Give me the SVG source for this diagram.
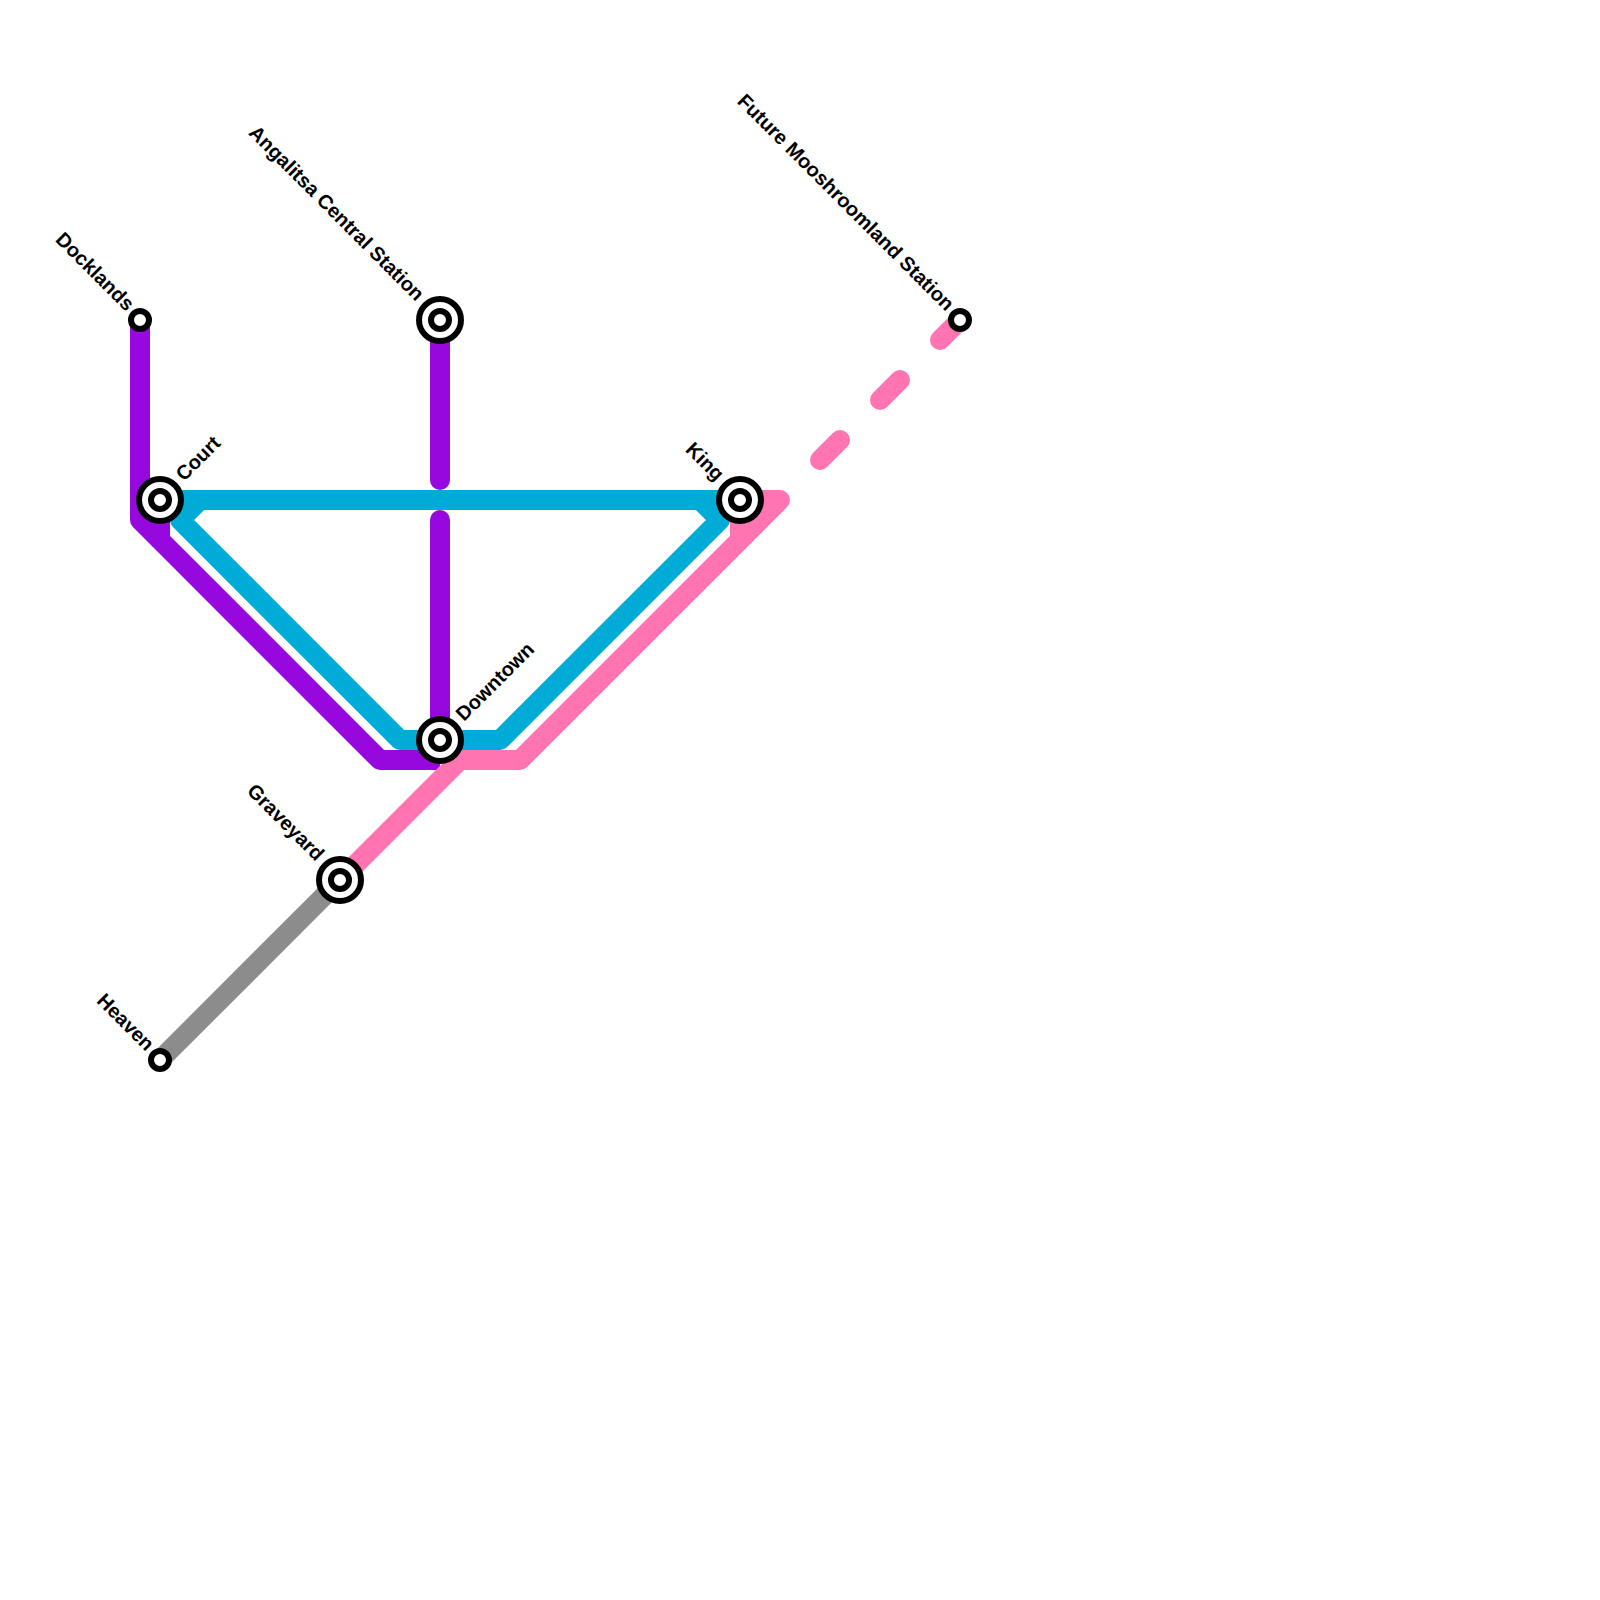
<svg xmlns="http://www.w3.org/2000/svg" width="1600" height="1600" viewBox="0 0 1600 1600">
<style>
.l{fill:none;stroke-width:20;stroke-linejoin:round;stroke-linecap:butt}
.r{stroke-linecap:round}
.b{stroke:#00acd7}.p{stroke:#9708df}.k{stroke:#ff74b1}.g{stroke:#8c8c8c}
.o{fill:#fff;stroke:#000;stroke-width:6}
text{font-family:"Liberation Sans",Arial,sans-serif;font-size:20px;font-weight:700;fill:#000;text-rendering:geometricPrecision;opacity:.999}
.e{text-anchor:end}
</style>
<rect width="1600" height="1600" fill="#fff"/>
<g id="connectors">
<path class="l g" d="M160 1060L340 880"/>
<path class="l b" d="M160 500H740"/>
<path class="l b" d="M200 500L180 520L400 740H500L720 520L700 500"/>
<path class="l p" d="M140 320V520L160 540"/>
<path class="l p" d="M160 500V540L380 760H440"/>
<path class="l p r" d="M440 320V480"/>
<path class="l p r" d="M440 520V740"/>
<path class="l k" d="M340 880L460 760H520L780 500H740V540"/>
<path class="l k r" d="M820 460L960 320" stroke-dasharray="28.284 56.569"/>
</g>
<g id="docklands"><circle class="o" cx="140" cy="320" r="9"/><text class="e" transform="translate(126 312) rotate(45)">Docklands</text></g>
<g id="angalitsa"><circle class="o" cx="440" cy="320" r="21"/><circle class="o" cx="440" cy="320" r="9"/><text class="e" transform="translate(416 302) rotate(45)">Angalitsa Central Station</text></g>
<g id="court"><circle class="o" cx="160" cy="500" r="21"/><circle class="o" cx="160" cy="500" r="9"/><text transform="translate(184 482) rotate(-45)">Court</text></g>
<g id="king"><circle class="o" cx="740" cy="500" r="21"/><circle class="o" cx="740" cy="500" r="9"/><text class="e" transform="translate(716 482) rotate(45)">King</text></g>
<g id="downtown"><circle class="o" cx="440" cy="740" r="21"/><circle class="o" cx="440" cy="740" r="9"/><text transform="translate(464 722) rotate(-45)">Downtown</text></g>
<g id="graveyard"><circle class="o" cx="340" cy="880" r="21"/><circle class="o" cx="340" cy="880" r="9"/><text class="e" transform="translate(316 862) rotate(45)">Graveyard</text></g>
<g id="heaven"><circle class="o" cx="160" cy="1060" r="9"/><text class="e" transform="translate(146 1052) rotate(45)">Heaven</text></g>
<g id="future"><circle class="o" cx="960" cy="320" r="9"/><text class="e" transform="translate(946 312) rotate(45)">Future Mooshroomland Station</text></g>
</svg>
